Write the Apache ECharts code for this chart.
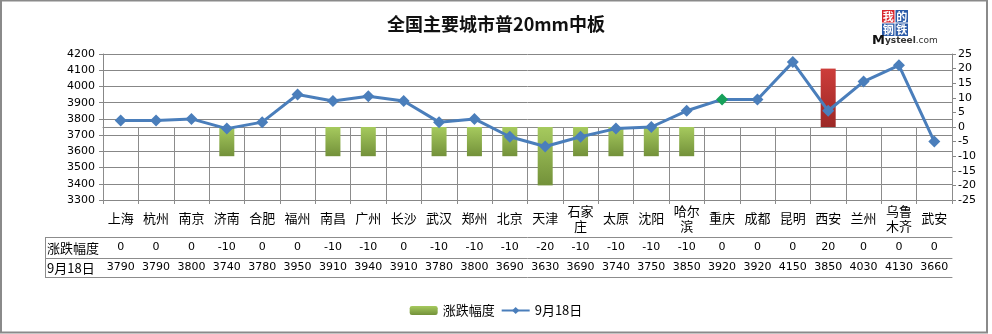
<!DOCTYPE html>
<html>
<head>
<meta charset="utf-8">
<script src="https://cdn.jsdelivr.net/npm/echarts@6/dist/echarts.min.js"></script>
<style>
html,body{margin:0;padding:0;background:#fff}
#c{width:992px;height:334px}
</style>
</head>
<body>
<div id="c"></div>
<script>
// Cities, week-on-week change and quoted price for plain 20mm plate
const cities = ['上海','杭州','南京','济南','合肥','福州','南昌','广州','长沙','武汉','郑州','北京','天津','石家庄','太原','沈阳','哈尔滨','重庆','成都','昆明','西安','兰州','乌鲁木齐','武安'];
const changes = [0,0,0,-10,0,0,-10,-10,0,-10,-10,-10,-20,-10,-10,-10,-10,0,0,0,20,0,0,0];
const prices = [3790,3790,3800,3740,3780,3950,3910,3940,3910,3780,3800,3690,3630,3690,3740,3750,3850,3920,3920,4150,3850,4030,4130,3660];
const priceAxis = { min: 3300, max: 4200, interval: 100 };
const changeAxis = { min: -25, max: 25, interval: 5 };
const seriesNames = ['涨跌幅度', '9月18日'];
const titleText = '全国主要城市普20mm中板';
const markedCity = '重庆';

const CJK = '"Noto Sans CJK SC", sans-serif';
const NUM = '"DejaVu Sans", "Noto Sans CJK SC", sans-serif';
const GRID_COLOR = '#878787';
const TABLE_COLOR = '#8c8c8c';

const greenFill = new echarts.graphic.LinearGradient(0, 0, 0, 1, [
  { offset: 0, color: '#a6ca5e' },
  { offset: 1, color: '#73913a' }
]);
const redFill = new echarts.graphic.LinearGradient(0, 0, 0, 1, [
  { offset: 0, color: '#cd3d3a' },
  { offset: 1, color: '#9c2826' }
]);

const wrapName = n => n.length > 2 ? n.slice(0, 2) + '\n' + n.slice(2) : n;
const plain = v => String(v);

// the data table rows under the plot are extra category axes
function tableRow(offset, margin, values) {
  return {
    type: 'category', data: cities, position: 'bottom', offset: offset,
    boundaryGap: true, gridIndex: 0,
    axisLine: { show: true, lineStyle: { color: TABLE_COLOR, width: 1 } },
    axisTick: { show: false },
    axisLabel: values ? {
      interval: 0, margin: margin, verticalAlign: 'middle',
      color: '#000', fontFamily: NUM, fontSize: 11,
      formatter: (v, i) => String(values[i])
    } : { show: false },
    splitLine: { show: false }
  };
}

const chart = echarts.init(document.getElementById('c'), null, { renderer: 'canvas' });
chart.setOption({
  animation: false,
  backgroundColor: '#fff',
  title: {
    text: titleText, left: 'center', top: 10,
    textStyle: { fontFamily: CJK, fontSize: 18, fontWeight: 'bold', color: '#111' }
  },
  legend: {
    data: seriesNames, bottom: 12, left: 'center',
    itemWidth: 28, itemHeight: 9, itemGap: 6,
    textStyle: { fontFamily: CJK, fontSize: 13, color: '#000' }
  },
  grid: { left: 103, right: 40, top: 54, height: 146 },
  xAxis: [
    {
      type: 'category', data: cities, position: 'bottom', boundaryGap: true,
      axisLine: { show: true, lineStyle: { color: TABLE_COLOR, width: 1 } },
      axisTick: { show: true, interval: 0, length: 77, lineStyle: { color: TABLE_COLOR } },
      axisLabel: {
        interval: 0, margin: 18.5, verticalAlign: 'middle', lineHeight: 15,
        color: '#000', fontFamily: CJK, fontSize: 13, formatter: wrapName
      }
    },
    tableRow(37, 10.5, changes),
    tableRow(58, 9.5, prices),
    tableRow(77, 0, null)
  ],
  yAxis: [
    {
      type: 'value', position: 'left',
      min: priceAxis.min, max: priceAxis.max, interval: priceAxis.interval,
      axisLine: { show: true, lineStyle: { color: GRID_COLOR } },
      axisTick: { show: true, length: 4, lineStyle: { color: GRID_COLOR } },
      axisLabel: { margin: 8, color: '#000', fontFamily: NUM, fontSize: 11, formatter: plain },
      splitLine: { show: true, lineStyle: { color: GRID_COLOR, width: 1 } }
    },
    {
      type: 'value', position: 'right',
      min: changeAxis.min, max: changeAxis.max, interval: changeAxis.interval,
      axisLine: { show: true, lineStyle: { color: GRID_COLOR } },
      axisTick: { show: true, length: 4, lineStyle: { color: GRID_COLOR } },
      axisLabel: { margin: 6, color: '#000', fontFamily: NUM, fontSize: 11, formatter: plain },
      splitLine: { show: false }
    }
  ],
  series: [
    {
      name: seriesNames[0], type: 'bar', xAxisIndex: 0, yAxisIndex: 1,
      barWidth: 15,
      itemStyle: { color: greenFill },
      data: changes.map(v => ({ value: v, itemStyle: { color: v > 0 ? redFill : greenFill } })),
      z: 2
    },
    {
      name: seriesNames[1], type: 'line', xAxisIndex: 0, yAxisIndex: 0,
      symbol: 'diamond', symbolSize: 12,
      lineStyle: { color: '#4a7ebb', width: 3 },
      itemStyle: { color: '#4a7ebb' },
      data: prices.map((v, i) => cities[i] === markedCity
        ? { value: v, itemStyle: { color: '#16a05a' } }
        : v),
      z: 5
    }
  ],
  graphic: [
    // outer chart frame
    { type: 'rect', shape: { x: 1, y: 0.5, width: 986, height: 332 },
      style: { fill: null, stroke: '#8a8a8a', lineWidth: 2 }, silent: true },
    // series-name column of the data table
    { type: 'line', shape: { x1: 45, y1: 237.5, x2: 103, y2: 237.5 }, style: { stroke: TABLE_COLOR, lineWidth: 1 } },
    { type: 'line', shape: { x1: 45, y1: 258.5, x2: 103, y2: 258.5 }, style: { stroke: TABLE_COLOR, lineWidth: 1 } },
    { type: 'line', shape: { x1: 45, y1: 277.5, x2: 103, y2: 277.5 }, style: { stroke: TABLE_COLOR, lineWidth: 1 } },
    { type: 'line', shape: { x1: 45.5, y1: 237, x2: 45.5, y2: 278 }, style: { stroke: TABLE_COLOR, lineWidth: 1 } },
    { type: 'text', x: 47, y: 248, style: { text: seriesNames[0], font: '13px ' + CJK, fill: '#000', verticalAlign: 'middle' } },
    { type: 'text', x: 47, y: 268, style: { text: seriesNames[1], font: '13px ' + CJK, fill: '#000', verticalAlign: 'middle' } },
    // brand mark
    {
      type: 'group', x: 882, y: 10,
      children: [
        { type: 'rect', shape: { x: 0, y: 0, width: 12.5, height: 12.5 }, style: { fill: '#d8262e' } },
        { type: 'rect', shape: { x: 13.5, y: 0, width: 12.5, height: 12.5 }, style: { fill: '#2b5ba8' } },
        { type: 'rect', shape: { x: 0, y: 13.5, width: 12.5, height: 12.5 }, style: { fill: '#2b5ba8' } },
        { type: 'rect', shape: { x: 13.5, y: 13.5, width: 12.5, height: 12.5 }, style: { fill: '#2b5ba8' } },
        { type: 'text', x: 6.25, y: 6.5, style: { text: '我', font: 'bold 11px ' + CJK, fill: '#fff', align: 'center', verticalAlign: 'middle' } },
        { type: 'text', x: 19.75, y: 6.5, style: { text: '的', font: 'bold 11px ' + CJK, fill: '#fff', align: 'center', verticalAlign: 'middle' } },
        { type: 'text', x: 6.25, y: 20, style: { text: '钢', font: 'bold 11px ' + CJK, fill: '#fff', align: 'center', verticalAlign: 'middle' } },
        { type: 'text', x: 19.75, y: 20, style: { text: '铁', font: 'bold 11px ' + CJK, fill: '#fff', align: 'center', verticalAlign: 'middle' } },
        {
          type: 'text', x: -10, y: 24,
          style: {
            text: '{m|M}{s|ysteel}{c|.com}',
            rich: {
              m: { font: 'bold 13px "DejaVu Sans"', fill: '#111' },
              s: { font: 'bold 9px "DejaVu Sans"', fill: '#333' },
              c: { font: '9px "DejaVu Sans"', fill: '#333' }
            }
          }
        }
      ]
    }
  ]
});
</script>
</body>
</html>
